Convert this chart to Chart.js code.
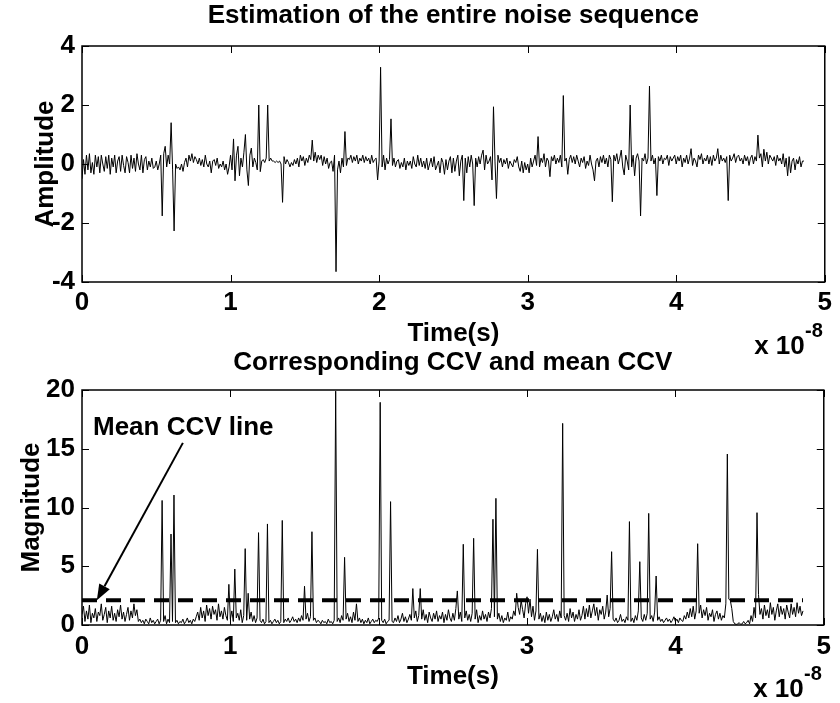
<!DOCTYPE html>
<html lang="en">
<head>
<meta charset="UTF-8">
<title>Estimation of the entire noise sequence</title>
<script src="https://cdn.jsdelivr.net/npm/chart.js@4.4.1/dist/chart.umd.min.js"></script>
<style>
    body { margin: 0; background: #fff; }
    #wrap { position: relative; width: 840px; height: 703px; }
    #wrap canvas { position: absolute; left: 0; top: 0; }
</style>
</head>
<body>
<div id="wrap">
    <canvas id="noiseChart" width="840" height="703"></canvas>
    <canvas id="ccvChart" width="840" height="703"></canvas>
</div>
<script>
    // time axis is in units of 1e-8 s (shown as "x 10^-8")
    const timeStep = 0.01;
    const timeTicks = [0, 1, 2, 3, 4, 5];
    const amplitudeTicks = [-4, -2, 0, 2, 4];
    const magnitudeTicks = [0, 5, 10, 15, 20];

    // estimated noise sequence (top plot)
    const amplitude = [
        -0.5, 0.15, -0.35, 0.3, -0.2, 0.35, -0.3, 0.05, -0.35, 0.3,
        -0.1, 0.25, -0.3, 0.3, 0.0, -0.25, 0.25, -0.15, 0.3, -0.35,
        0.2, -0.1, 0.3, -0.3, 0.1, 0.25, -0.25, 0.3, -0.05, -0.3,
        0.25, 0.05, -0.3, 0.3, -0.15, 0.2, -0.25, 0.35, 0.0, -0.2,
        0.3, -0.3, 0.15, 0.25, -0.2, 0.1, -0.1, 0.2, -0.15, -0.1,
        0.1, -0.2, 0.0, 0.3, -1.76, 0.35, 0.6, -0.1, 0.3, 0.0,
        1.4, -0.2, -2.27, 0.0, -0.15, -0.1, -0.2, 0.0, -0.25, 0.05,
        0.2, -0.1, 0.3, 0.1, 0.35, 0.05, 0.25, 0.15, 0.0, 0.2,
        -0.05, 0.15, -0.1, 0.3, 0.0, -0.1, 0.1, -0.3, 0.1, 0.15,
        -0.05, 0.2, -0.15, 0.0, -0.1, 0.1, -0.2, 0.0, -0.35, -0.1,
        0.3, -0.2, 0.85, -0.57, 0.3, 0.6, -0.4, 0.2, -0.1, 0.4,
        1.0, -0.2, -0.73, 0.3, 0.54, -0.1, 0.2, 0.05, -0.2, 2.0,
        -0.26, 0.1, 0.15, 0.05, 0.2, 2.0, 0.1, 0.2, 0.1, 0.1,
        0.05, 0.1, 0.05, 0.1, 0.0, -1.3, 0.25, 0.0, 0.15, 0.05,
        -0.1, 0.05, -0.05, 0.15, 0.0, 0.2, -0.1, 0.3, 0.1, 0.25,
        -0.05, 0.2, 0.05, 0.3, 0.15, 0.81, 0.1, 0.4, 0.05, 0.3,
        0.15, 0.3, -0.05, 0.25, 0.0, 0.2, -0.15, 0.05, 0.1, -0.25,
        0.3, -3.65, -0.2, 0.1, -0.3, 0.2, -0.1, 1.1, -0.05, 0.2,
        0.15, 0.3, 0.05, 0.25, 0.1, 0.3, 0.0, 0.2, 0.1, 0.3,
        0.05, 0.25, 0.1, 0.2, 0.0, 0.3, 0.05, 0.15, 0.2, -0.54,
        0.1, 3.28, -0.1, 0.3, -0.2, 0.2, 0.0, 0.15, 1.53, -0.05,
        0.2, -0.1, 0.1, 0.15, -0.15, 0.05, -0.1, 0.2, -0.2, 0.1,
        -0.05, 0.1, -0.15, 0.25, 0.0, -0.1, 0.3, -0.05, 0.2, -0.1,
        0.1, -0.15, 0.2, -0.2, 0.0, 0.2, -0.1, 0.25, -0.2, -0.05,
        0.1, -0.3, 0.2, 0.05, -0.35, 0.15, -0.2, 0.1, 0.25, -0.3,
        0.2, -0.25, 0.1, 0.3, -0.4, 0.1, 0.3, -1.24, 0.2, -0.3,
        0.25, -0.1, 0.3, 0.0, -1.41, 0.2, -0.1, 0.25, 0.0, 0.3,
        0.47, -0.2, 0.3, 0.0, 0.1, 0.25, -0.54, 1.94, 0.1, -1.17,
        0.3, 0.05, 0.2, -0.1, 0.15, 0.0, 0.2, -0.15, 0.1, 0.0,
        -0.1, 0.15, 0.05, 0.25, -0.1, -0.25, 0.1, -0.3, 0.05, -0.2,
        0.0, -0.3, 0.2, -0.1, 0.1, 0.3, -0.05, 0.93, -0.1, 0.2,
        0.05, 0.35, -0.1, 0.2, 0.1, -0.43, 0.25, 0.1, 0.3, 0.0,
        0.2, 0.05, 0.3, -0.1, 2.32, 0.1, 0.2, -0.35, 0.15, 0.3,
        0.05, 0.25, 0.0, 0.3, 0.1, -0.1, 0.2, 0.05, 0.25, -0.15,
        0.1, -0.05, 0.3, 0.0, -0.2, -0.57, 0.1, 0.2, -0.1, 0.25,
        0.05, 0.3, 0.0, 0.2, -0.1, 0.3, 0.15, -1.28, 0.3, 0.1,
        0.35, 0.0, 0.2, 0.47, -0.1, -0.37, 0.3, 0.1, -0.2, 2.0,
        -0.1, 0.3, -0.4, 0.2, 0.35, 0.1, -1.76, 0.2, 0.1, 0.35,
        0.0, 0.2, 2.64, 0.1, 0.3, 0.0, 0.2, -1.07, 0.25, 0.1,
        0.3, 0.0, 0.2, 0.15, 0.3, -0.05, 0.25, 0.1, 0.2, 0.3,
        0.0, 0.25, 0.1, 0.3, -0.1, 0.2, 0.05, 0.3, 0.0, 0.2,
        0.52, -0.05, 0.2, 0.1, -0.1, 0.3, 0.15, 0.35, 0.0, 0.2,
        0.1, 0.3, 0.0, 0.25, -0.05, 0.3, 0.1, 0.2, 0.52, 0.0,
        0.3, 0.1, 0.2, 0.05, 0.25, -1.24, 0.3, 0.1, 0.2, 0.35,
        0.05, 0.25, 0.3, 0.1, 0.2, 0.0, 0.3, 0.1, 0.25, -0.05,
        0.2, 0.3, 0.0, 0.25, 0.1, 0.98, 0.2, 0.35, -0.1, 0.5,
        0.1, 0.4, 0.0, 0.3, 0.2, 0.1, 0.25, -0.05, 0.3, 0.1,
        0.2, 0.0, 0.35, -0.1, 0.2, -0.4, 0.25, -0.3, 0.1, 0.2,
        -0.2, 0.15, 0.0, 0.25, -0.1, 0.1, 0.1
    ];

    // corresponding CCV (bottom plot)
    const ccv = [
        0.9, 1.6, 0.3, 1.2, 0.5, 1.7, 0.2, 1.0, 0.6, 1.4,
        0.3, 1.1, 0.8, 1.8, 0.4, 0.9, 1.5, 0.2, 1.2, 0.6,
        1.6, 0.4, 1.0, 0.3, 1.3, 0.7, 1.7, 0.5, 1.1, 0.3,
        0.9, 1.5, 0.4, 1.2, 0.6, 1.8, 0.8, 1.3, 0.3, 0.5,
        0.2, 0.4, 0.1, 0.5, 0.3, 0.1, 0.6, 0.2, 0.4, 0.1,
        0.3, 0.5, 0.1, 0.4, 10.6, 0.3, 0.8, 0.1, 0.5, 0.2,
        7.74, 0.3, 11.06, 0.2, 0.4, 0.1, 0.3, 0.2, 0.5, 0.1,
        0.3, 0.6, 0.2, 0.4, 0.1, 0.5, 0.3, 0.7, 1.1, 0.4,
        1.5, 0.6, 1.2, 0.3, 1.7, 0.8, 1.4, 0.5, 1.6, 0.9,
        1.3, 0.4, 1.8, 0.7, 1.2, 0.5, 1.5, 0.8, 0.4, 3.46,
        0.5, 1.2, 0.3, 4.76, 0.6, 1.0, 0.4, 1.3, 0.2, 0.8,
        6.5, 0.4, 2.7, 0.5, 1.1, 0.3, 0.8, 0.2, 0.6, 7.86,
        0.4, 0.2, 0.5, 0.1, 0.3, 8.6, 0.2, 0.4, 0.1, 0.3,
        0.5, 0.2, 0.4, 0.1, 0.3, 8.9, 0.2, 0.5, 0.3, 0.6,
        0.2, 0.4, 0.7, 0.3, 0.5, 0.2, 0.6, 0.3, 0.8, 0.4,
        3.3, 0.5, 1.0, 0.3, 0.7, 7.94, 0.4, 0.6, 0.2, 0.4,
        0.3, 0.1, 0.4, 0.2, 0.3, 0.1, 0.5, 0.2, 0.3, 0.1,
        0.4, 19.9, 0.3, 0.6, 0.2, 0.8, 0.4, 5.76, 0.5, 1.0,
        0.3, 0.7, 0.2, 1.1, 0.4, 1.8, 0.3, 0.6, 0.2, 0.5,
        0.1, 0.4, 0.2, 0.6, 0.1, 0.3, 0.5, 0.2, 0.4, 0.3,
        0.6, 18.95, 0.4, 0.2, 0.5, 0.1, 0.3, 0.4, 10.5, 0.3,
        0.2, 0.6, 0.3, 0.8, 0.2, 0.5, 1.0, 0.3, 0.7, 0.2,
        0.5, 0.9, 0.4, 3.1, 0.6, 1.2, 0.3, 0.8, 3.1, 0.5,
        1.3, 0.4, 0.9, 0.2, 1.1, 0.6, 0.3, 1.0, 0.5, 1.2,
        0.3, 0.8, 0.5, 1.1, 0.2, 0.9, 0.4, 1.3, 0.6, 0.3,
        1.0, 0.4, 1.4, 2.9, 0.5, 1.1, 0.3, 6.87, 0.6, 1.2,
        0.4, 0.9, 0.3, 1.0, 7.38, 0.5, 1.3, 0.2, 0.8, 0.4,
        1.2, 0.5, 0.9, 0.3, 1.1, 0.6, 1.4, 9.0, 0.7, 10.78,
        0.5, 1.0, 0.3, 0.8, 0.2, 0.6, 0.4, 1.1, 0.3, 0.7,
        0.5, 1.2, 0.8, 2.7, 1.5, 0.9, 2.1, 1.3, 0.6, 1.8,
        2.4, 1.0, 2.2, 0.7, 1.6, 0.4, 1.2, 6.44, 0.5, 1.0,
        0.3, 0.8, 0.2, 1.1, 0.4, 0.9, 0.3, 0.7, 1.3, 0.5,
        0.9, 0.3, 1.2, 0.6, 17.16, 0.8, 0.4, 1.0, 0.3, 1.4,
        0.6, 1.1, 0.3, 0.9, 0.5, 1.3, 0.4, 0.8, 1.6, 0.5,
        1.4, 0.7, 1.7, 0.6, 1.2, 1.8, 0.8, 1.5, 0.4, 1.3,
        0.9, 1.6, 0.5, 1.1, 2.55, 0.7, 1.4, 6.24, 0.5, 0.3,
        0.6, 0.2, 0.4, 0.9, 0.3, 0.5, 0.2, 0.7, 0.4, 8.8,
        0.3, 0.6, 0.2, 0.8, 0.4, 1.2, 5.39, 0.6, 0.3, 0.9,
        0.4, 1.0, 9.5, 0.5, 0.8, 0.3, 1.1, 4.17, 0.4, 0.7,
        0.3, 0.5, 0.2, 0.4, 0.6, 0.3, 0.5, 0.2, 0.4, 0.7,
        0.3, 0.5, 0.2, 0.6, 0.4, 0.3, 0.8, 0.5, 1.1, 0.6,
        1.4, 0.7, 1.6, 0.5, 1.2, 6.92, 1.0, 1.7, 0.6, 1.3,
        0.8, 1.5, 0.4, 1.0, 0.7, 1.3, 0.3, 0.9, 1.2, 0.5,
        1.0, 0.4, 0.8, 0.6, 1.8, 14.55, 2.2, 2.1, 1.4, 0.3,
        0.1, 0.05, 0.1, 0.2, 0.05, 0.1, 0.3, 0.1, 0.2, 0.4,
        0.1, 0.8, 0.3, 1.5, 0.6, 9.56, 2.6, 0.9, 1.4, 0.5,
        1.7, 0.8, 1.3, 0.6, 1.9, 0.9, 1.5, 0.4, 1.2, 1.8,
        0.7, 1.6, 0.9, 1.4, 0.5, 1.7, 1.1, 0.6, 1.8, 0.9,
        1.5, 0.7, 1.9, 1.0, 1.6, 0.8, 1.2
    ];

    const meanCcv = 2.1;
    const meanSpan = [0, 4.86];

    // annotation anchor points, in data coordinates (time, magnitude)
    const noteAt = [0.074, 16.2];
    const arrowTail = [0.68, 15.5];
    const arrowHead = [0.10, 2.1];

    const FONT = '"Liberation Sans", Arial, Helvetica, sans-serif';
    Chart.defaults.font.family = FONT;
    Chart.defaults.font.weight = 'bold';
    Chart.defaults.font.size = 26;
    Chart.defaults.font.lineHeight = 1;
    Chart.defaults.color = '#000';

    const toPoints = vals => vals.map((v, i) => ({x: +(i * timeStep).toFixed(2), y: v}));

    // box frame, inward ticks and the exponent note, like a matlab axes
    const matlabBox = {
        id: 'matlabBox',
        afterDatasetsDraw(chart) {
            const {ctx, chartArea: a, scales: {x, y}} = chart;
            ctx.save();
            ctx.strokeStyle = '#000';
            ctx.lineWidth = 1;
            ctx.beginPath();
            x.ticks.forEach(t => {
                const px = Math.round(x.getPixelForValue(t.value)) + 0.5;
                ctx.moveTo(px, a.bottom); ctx.lineTo(px, a.bottom - 7);
                ctx.moveTo(px, a.top); ctx.lineTo(px, a.top + 7);
            });
            y.ticks.forEach(t => {
                const py = Math.round(y.getPixelForValue(t.value)) + 0.5;
                ctx.moveTo(a.left, py); ctx.lineTo(a.left + 7, py);
                ctx.moveTo(a.right, py); ctx.lineTo(a.right - 7, py);
            });
            ctx.stroke();
            ctx.lineWidth = 1.5;
            ctx.strokeRect(a.left, a.top, a.width, a.height);

            ctx.fillStyle = '#000';
            ctx.textAlign = 'right';
            ctx.textBaseline = 'alphabetic';
            ctx.font = 'bold 26px ' + FONT;
            ctx.fillText('x 10', a.right - 20, a.bottom + 72);
            ctx.font = 'bold 20px ' + FONT;
            ctx.fillText('-8', a.right - 2, a.bottom + 55);
            ctx.restore();
        }
    };

    const arrowNote = {
        id: 'arrowNote',
        afterDatasetsDraw(chart) {
            const {ctx, scales: {x, y}} = chart;
            const px = p => [x.getPixelForValue(p[0]), y.getPixelForValue(p[1])];
            const [tx, ty] = px(arrowTail);
            const [hx, hy] = px(arrowHead);
            const ang = Math.atan2(hy - ty, hx - tx);
            const len = 16, half = 6;
            const bx = hx - len * Math.cos(ang), by = hy - len * Math.sin(ang);
            ctx.save();
            ctx.strokeStyle = '#000';
            ctx.fillStyle = '#000';
            ctx.lineWidth = 2;
            ctx.beginPath();
            ctx.moveTo(tx, ty);
            ctx.lineTo(bx, by);
            ctx.stroke();
            ctx.beginPath();
            ctx.moveTo(hx, hy);
            ctx.lineTo(bx + half * Math.sin(ang), by - half * Math.cos(ang));
            ctx.lineTo(bx - half * Math.sin(ang), by + half * Math.cos(ang));
            ctx.closePath();
            ctx.fill();
            const [lx, ly] = px(noteAt);
            ctx.font = 'bold 26px ' + FONT;
            ctx.textAlign = 'left';
            ctx.textBaseline = 'alphabetic';
            ctx.fillText('Mean CCV line', lx, ly);
            ctx.restore();
        }
    };

    function timeScale(height, tickPad, titlePad) {
        return {
            type: 'linear',
            min: 0,
            max: 5,
            afterBuildTicks: s => { s.ticks = timeTicks.map(v => ({value: v})); },
            ticks: {padding: tickPad, maxRotation: 0, autoSkip: false},
            grid: {display: false, drawTicks: false},
            border: {display: false},
            title: {display: true, text: 'Time(s)', padding: {top: 0, bottom: titlePad}},
            afterFit: s => { s.height = height; }
        };
    }

    function valueScale(min, max, tickList, label, titlePad) {
        return {
            type: 'linear',
            min: min,
            max: max,
            afterBuildTicks: s => { s.ticks = tickList.map(v => ({value: v})); },
            ticks: {padding: 7},
            grid: {display: false, drawTicks: false},
            border: {display: false},
            title: {display: true, text: label, padding: {top: titlePad, bottom: 0}},
            afterFit: s => { s.width = 82; }
        };
    }

    const common = {
        responsive: false,
        animation: false,
        devicePixelRatio: 1,
        parsing: false,
        normalized: true,
        events: []
    };

    new Chart(document.getElementById('noiseChart'), {
        type: 'line',
        data: {
            datasets: [{
                data: toPoints(amplitude),
                borderColor: '#000',
                borderWidth: 1,
                pointRadius: 0,
                tension: 0
            }]
        },
        options: {
            ...common,
            layout: {padding: {left: 0, right: 10, top: 0, bottom: 352}},
            scales: {
                x: timeScale(69, 8, 4),
                y: valueScale(-4, 4, amplitudeTicks, 'Amplitude', 33)
            },
            plugins: {
                legend: {display: false},
                tooltip: {enabled: false},
                title: {
                    display: true,
                    fullSize: false,
                    text: 'Estimation of the entire noise sequence',
                    padding: {top: 3, bottom: 17}
                }
            }
        },
        plugins: [matlabBox]
    });

    new Chart(document.getElementById('ccvChart'), {
        type: 'line',
        data: {
            datasets: [{
                data: toPoints(ccv),
                borderColor: '#000',
                borderWidth: 1,
                pointRadius: 0,
                tension: 0
            }, {
                data: meanSpan.map(t => ({x: t, y: meanCcv})),
                borderColor: '#000',
                borderWidth: 4,
                borderDash: [15, 9],
                pointRadius: 0
            }]
        },
        options: {
            ...common,
            layout: {padding: {left: 0, right: 10, top: 345, bottom: 0}},
            scales: {
                x: timeScale(78, 9, 13),
                y: valueScale(0, 20, magnitudeTicks, 'Magnitude', 19)
            },
            plugins: {
                legend: {display: false},
                tooltip: {enabled: false},
                title: {
                    display: true,
                    fullSize: false,
                    text: 'Corresponding CCV and mean CCV',
                    padding: {top: 5, bottom: 14}
                }
            }
        },
        plugins: [matlabBox, arrowNote]
    });
</script>
</body>
</html>
